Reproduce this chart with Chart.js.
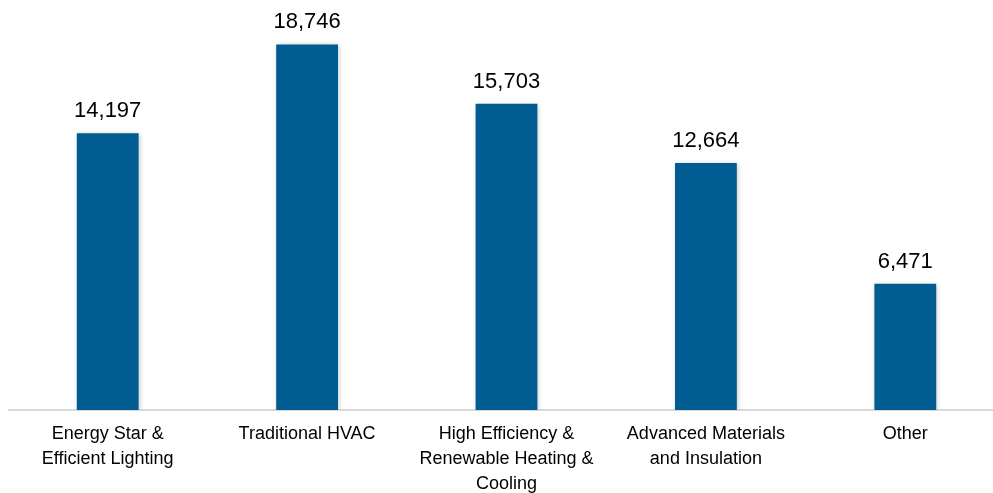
<!DOCTYPE html>
<html>
<head>
<meta charset="utf-8">
<script src="https://cdn.jsdelivr.net/npm/chart.js@4"></script>
<style>
  html, body { margin: 0; padding: 0; background: #fff; overflow: hidden; }
  #wrap { position: absolute; left: 8px; top: 0; width: 997px; height: 509px; }
</style>
</head>
<body>
<div id="wrap"><canvas id="jobsChart"></canvas></div>
<script>
const categories = [
    ['Energy Star &', 'Efficient Lighting'],
    ['Traditional HVAC'],
    ['High Efficiency &', 'Renewable Heating &', 'Cooling'],
    ['Advanced Materials', 'and Insulation'],
    ['Other']
];
const values = [14197, 18746, 15703, 12664, 6471];

// value labels above each bar
const barLabels = {
    id: 'barLabels',
    afterDatasetsDraw(chart) {
        const ctx = chart.ctx;
        const meta = chart.getDatasetMeta(0);
        ctx.save();
        ctx.font = '22px "Liberation Sans", Arial, sans-serif';
        ctx.fillStyle = '#000';
        ctx.textAlign = 'center';
        ctx.textBaseline = 'alphabetic';
        meta.data.forEach((bar, i) => {
            ctx.fillText(values[i].toLocaleString('en-US'), bar.x, bar.y - 16);
        });
        ctx.restore();
    }
};

// soft shadow like the original
const barShadow = {
    id: 'barShadow',
    beforeDatasetsDraw(chart) {
        const ctx = chart.ctx;
        ctx.save();
        ctx.shadowColor = 'rgba(0,0,0,0.25)';
        ctx.shadowBlur = 5;
        ctx.shadowOffsetX = 1;
        ctx.shadowOffsetY = 1;
    },
    afterDatasetsDraw(chart) {
        chart.ctx.restore();
    }
};

const ctx = document.getElementById('jobsChart').getContext('2d');
new Chart(ctx, {
    type: 'bar',
    data: {
        labels: categories,
        datasets: [{
            data: values,
            backgroundColor: '#015c91',
            borderWidth: 0,
            categoryPercentage: 1,
            barPercentage: 0.31
        }]
    },
    options: {
        responsive: true,
        maintainAspectRatio: false,
        animation: false,
        layout: { padding: { top: 20, bottom: 0, left: 0, right: 0 } },
        plugins: {
            legend: { display: false },
            tooltip: { enabled: false }
        },
        scales: {
            y: {
                display: false,
                min: 0,
                max: 20000
            },
            x: {
                grid: { display: false, drawTicks: false },
                border: { display: true, color: '#d9d9d9', width: 2 },
                ticks: {
                    color: '#000',
                    padding: 12,
                    maxRotation: 0,
                    autoSkip: false,
                    font: { family: '"Liberation Sans", Arial, sans-serif', size: 18, lineHeight: 1.39 }
                }
            }
        }
    },
    plugins: [barShadow, barLabels]
});
</script>
</body>
</html>
